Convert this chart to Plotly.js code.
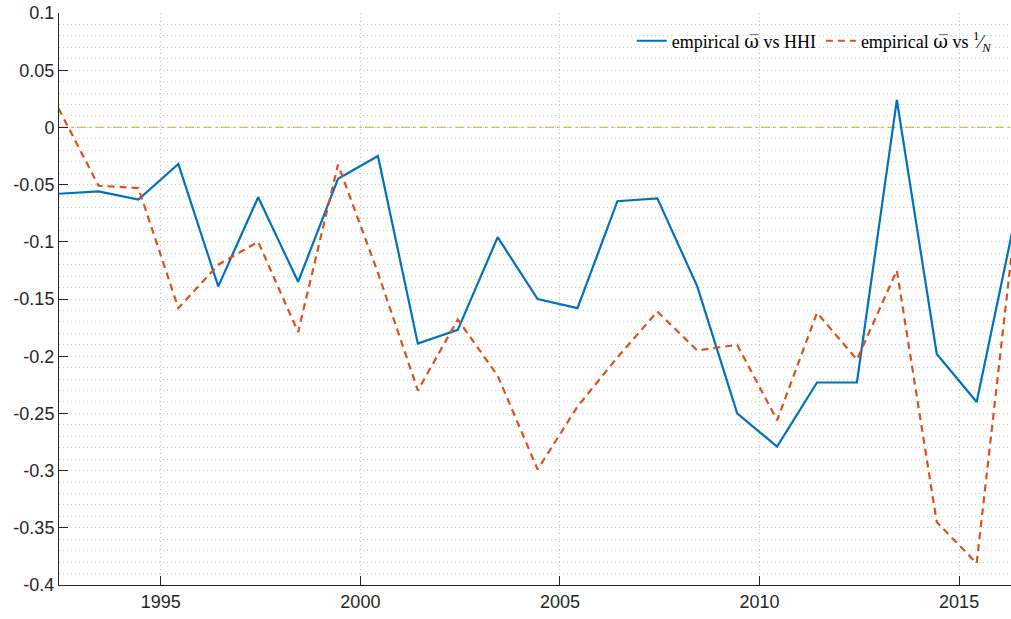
<!DOCTYPE html>
<html>
<head>
<meta charset="utf-8">
<script src="https://cdn.plot.ly/plotly-3.0.1.min.js"></script>
<style>html,body{margin:0;padding:0;background:#fff;}#chart{width:1011px;height:619px;}</style>
</head>
<body>
<div id="chart"></div>
<script>
// observation dates (mid-year positions as plotted)
const years = [1992.44, 1993.44, 1994.44, 1995.44, 1996.44, 1997.44, 1998.44, 1999.44,
  2000.44, 2001.44, 2002.44, 2003.44, 2004.44, 2005.44, 2006.44, 2007.44, 2008.44,
  2009.44, 2010.44, 2011.44, 2012.44, 2013.44, 2014.44, 2015.44, 2016.44];

// empirical omega-bar vs HHI
const omegaHHI = [-0.058, -0.056, -0.063, -0.032, -0.139, -0.061, -0.135, -0.045,
  -0.025, -0.189, -0.177, -0.096, -0.150, -0.158, -0.0645, -0.062, -0.139,
  -0.250, -0.279, -0.223, -0.223, 0.024, -0.198, -0.240, -0.073];

// empirical omega-bar vs 1/N
const omegaInvN = [0.0165, -0.051, -0.053, -0.158, -0.120, -0.100, -0.179, -0.0325,
  -0.127, -0.230, -0.168, -0.217, -0.299, -0.244, -0.201, -0.161, -0.195,
  -0.190, -0.256, -0.162, -0.203, -0.125, -0.345, -0.381, -0.072];

const xTicks = [1995, 2000, 2005, 2010, 2015];
const yTicks = [-0.4, -0.35, -0.3, -0.25, -0.2, -0.15, -0.1, -0.05, 0, 0.05, 0.1];
const yTickText = ['-0.4', '-0.35', '-0.3', '-0.25', '-0.2', '-0.15', '-0.1', '-0.05', '0', '0.05', '0.1'];
const omegaBar = '<span style="font-family:DejaVu Serif">ω\u0305</span>';
const seriesNames = ['empirical ' + omegaBar + ' vs HHI',
  'empirical ' + omegaBar + ' vs <sup>1</sup>\u2044<sub><i>N</i></sub>'];

const traces = [
  {x: years, y: omegaHHI, type: 'scatter', mode: 'lines', name: seriesNames[0],
   line: {color: '#0072BD', width: 2.2}},
  {x: years, y: omegaInvN, type: 'scatter', mode: 'lines', name: seriesNames[1],
   line: {color: '#D95319', width: 2.2, dash: '7px,5px'}}
];

const tickFont = {family: 'Liberation Sans, Arial, sans-serif', size: 18, color: '#262626'};

const layout = {
  width: 1011, height: 619,
  margin: {l: 59, r: 0, t: 13, b: 34, pad: 0},
  paper_bgcolor: '#fff', plot_bgcolor: '#fff',
  showlegend: true,
  legend: {orientation: 'h', x: 0.985, xanchor: 'right', y: 0.951, yanchor: 'middle',
    bgcolor: 'rgba(0,0,0,0)', font: {family: 'Liberation Serif, serif', size: 18, color: '#000'}},
  xaxis: {
    range: [1992.45, 2016.30], tickmode: 'array', tickvals: xTicks,
    ticks: 'inside', ticklen: 9, tickcolor: '#262626', tickwidth: 1,
    showline: true, linecolor: '#262626', linewidth: 1,
    showgrid: true, gridcolor: '#c4c4c4', griddash: '1px,3px', gridwidth: 1,
    zeroline: false, tickfont: tickFont
  },
  yaxis: {
    range: [-0.4, 0.1], tickmode: 'array', tickvals: yTicks, ticktext: yTickText,
    ticks: 'inside', ticklen: 9, tickcolor: '#262626', tickwidth: 1,
    showline: true, linecolor: '#262626', linewidth: 1,
    showgrid: true, gridcolor: '#c8c8c8', griddash: '1px,3px', gridwidth: 1,
    zeroline: false, tickfont: tickFont,
    minor: {tickmode: 'linear', tick0: -0.4, dtick: 0.01, showgrid: true,
      gridcolor: '#cccccc', griddash: '1px,3px', gridwidth: 1, ticks: ''}
  },
  shapes: [{type: 'line', xref: 'paper', x0: 0, x1: 1, yref: 'y', y0: 0, y1: 0,
    layer: 'between', line: {color: '#EDB120', width: 1.3, dash: 'dashdot'}}]
};

Plotly.newPlot('chart', traces, layout, {displayModeBar: false, staticPlot: true});
</script>
</body>
</html>
